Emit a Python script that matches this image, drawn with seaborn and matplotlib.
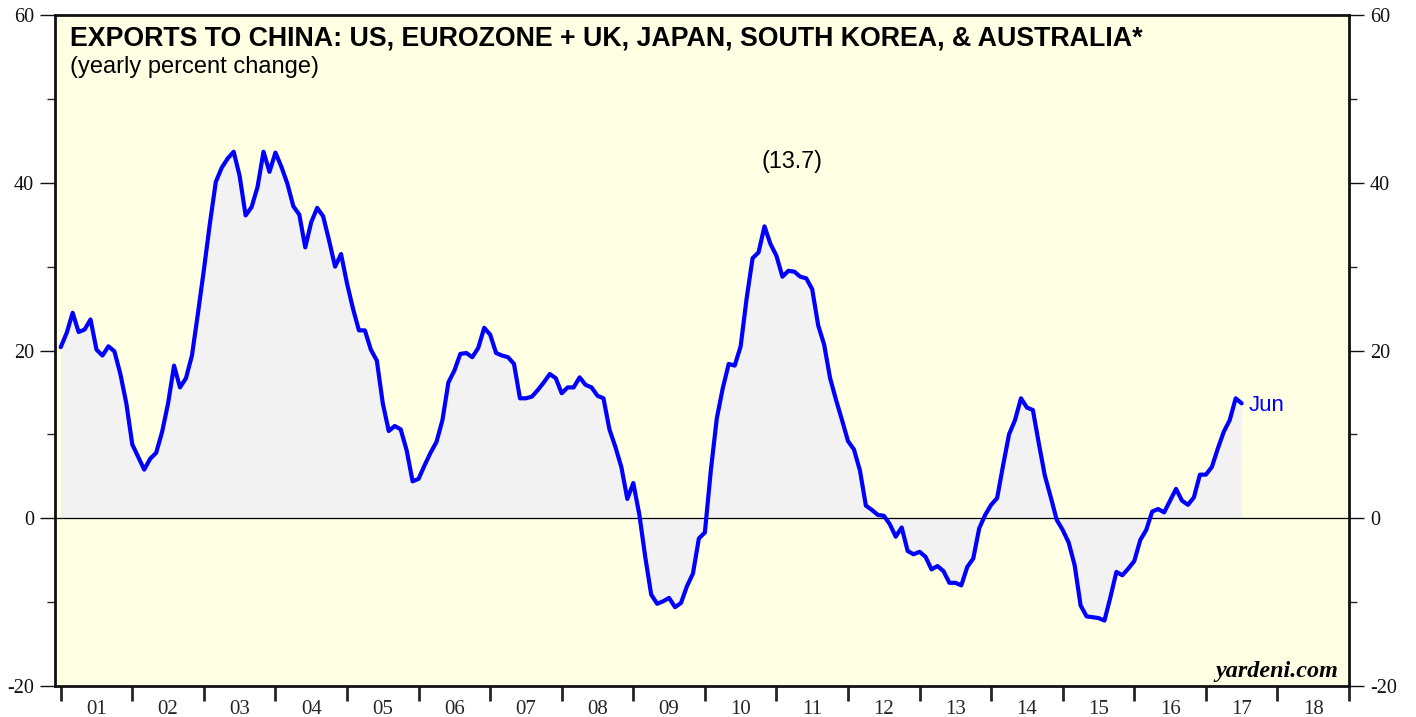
import numpy as np
import pandas as pd
import matplotlib
matplotlib.use("Agg")
import matplotlib.pyplot as plt
import seaborn as sns
from matplotlib.ticker import FixedLocator, MultipleLocator, NullFormatter, FixedFormatter

# Monthly yearly-percent-change in exports to China (Dec 2000 .. Jun 2017)
months = pd.date_range("2000-12-31", "2017-06-30", freq="ME")
pct_change = [
    20.4, 22.1, 24.5, 22.2, 22.5, 23.7, 20.1, 19.4, 20.5, 19.9, 17.2, 13.7,
    8.8, 7.3, 5.8, 7.1, 7.8, 10.3, 13.7, 18.2, 15.6, 16.7, 19.4, 24.4,
    29.6, 35.1, 40.1, 41.8, 42.9, 43.7, 40.8, 36.1, 37.1, 39.5, 43.7, 41.3,
    43.6, 41.9, 39.9, 37.2, 36.2, 32.3, 35.3, 37.0, 36.0, 33.1, 30.0, 31.5,
    28.0, 25.0, 22.4, 22.4, 20.1, 18.8, 13.7, 10.4, 11.0, 10.6, 8.1, 4.4,
    4.7, 6.3, 7.8, 9.1, 11.7, 16.2, 17.6, 19.6, 19.7, 19.2, 20.3, 22.7,
    21.9, 19.7, 19.4, 19.2, 18.4, 14.3, 14.3, 14.5, 15.3, 16.2, 17.2, 16.7,
    14.9, 15.6, 15.6, 16.8, 15.9, 15.6, 14.6, 14.3, 10.6, 8.5, 6.1, 2.3,
    4.2, 0.5, -4.6, -9.1, -10.2, -9.9, -9.5, -10.6, -10.1, -8.1, -6.6, -2.4,
    -1.7, 5.7, 11.9, 15.5, 18.4, 18.2, 20.5, 26.2, 31.0, 31.7, 34.8, 32.7,
    31.3, 28.8, 29.5, 29.4, 28.8, 28.6, 27.3, 23.0, 20.7, 16.7, 14.1, 11.7,
    9.2, 8.2, 5.7, 1.5, 1.0, 0.4, 0.3, -0.7, -2.2, -1.1, -3.9, -4.3,
    -4.0, -4.6, -6.1, -5.7, -6.3, -7.7, -7.7, -8.0, -5.8, -4.8, -1.2, 0.4,
    1.6, 2.4, 6.3, 10.0, 11.7, 14.3, 13.2, 12.9, 8.9, 5.1, 2.5, -0.2,
    -1.4, -2.9, -5.6, -10.4, -11.7, -11.8, -11.9, -12.2, -9.4, -6.4, -6.8, -6.0,
    -5.1, -2.6, -1.4, 0.8, 1.1, 0.7, 2.1, 3.5, 2.1, 1.6, 2.5, 5.2,
    5.2, 6.1, 8.3, 10.3, 11.7, 14.3, 13.7,
]
years = list(range(2001, 2019))
year_labels = [f"{y % 100:02d}" for y in years]
y_ticks = [-20, 0, 20, 40, 60]
latest_label = "Jun"
title = "EXPORTS TO CHINA: US, EUROZONE + UK, JAPAN, SOUTH KOREA, & AUSTRALIA*"
subtitle = "(yearly percent change)"

df = pd.DataFrame({"date": months, "pct": pct_change})
df["t"] = df["date"].dt.year + df["date"].dt.month / 12.0

sns.set_style("ticks")
plt.rcParams["font.family"] = ["Liberation Sans", "DejaVu Sans"]
plt.rcParams["axes.unicode_minus"] = False

W, H = 1416, 717
fig = plt.figure(figsize=(W / 100, H / 100), dpi=100)
left, right, top, bottom = 55, 1349, 15, 686
ax = fig.add_axes([left / W, 1 - bottom / H, (right - left) / W, (bottom - top) / H])
ax.set_facecolor("#FFFFE3")

ax.fill_between(df["t"], 0, df["pct"], color="#F2F2F2", lw=0, zorder=1)
ax.axhline(0, color="black", lw=0.9, zorder=2)
sns.lineplot(data=df, x="t", y="pct", ax=ax, color="#0000FF", lw=3.0, zorder=3)

ax.set_xlim(2000.92, 2019.0)
ax.set_ylim(-20, 60)
ax.set_xlabel("")
ax.set_ylabel("")

for s in ax.spines.values():
    s.set_visible(True)
    s.set_linewidth(2.0)
    s.set_color("#111111")

serif = ["Liberation Serif", "DejaVu Serif"]

# y axis: labels on both sides
ax.yaxis.set_major_locator(FixedLocator(y_ticks))
ax.yaxis.set_minor_locator(MultipleLocator(10))
ax.tick_params(axis="y", which="major", left=True, right=True, labelleft=True,
               labelright=True, direction="out", length=11, width=1.0, pad=4,
               labelsize=14.5, colors="#111111")
ax.tick_params(axis="y", which="minor", left=True, right=True, direction="out",
               length=6, width=1.0)

# x axis: year boundaries as ticks, labels centred inside each year
ax.xaxis.set_major_locator(FixedLocator(list(range(2001, 2020))))
ax.xaxis.set_major_formatter(NullFormatter())
ax.xaxis.set_minor_locator(FixedLocator([y + 0.5 for y in years]))
ax.xaxis.set_minor_formatter(FixedFormatter(year_labels))
ax.tick_params(axis="x", which="major", direction="out", length=11, width=2.0)
ax.tick_params(axis="x", which="minor", length=0, pad=10, labelsize=15)
for lab in ax.get_yticklabels() + ax.get_xticklabels(minor=True):
    lab.set_fontfamily(serif)

ax.text(0.0116, 0.955, title, transform=ax.transAxes, fontsize=19.3,
        fontweight="bold", ha="left", va="baseline", color="black")
ax.text(0.0116, 0.913, subtitle, transform=ax.transAxes, fontsize=17,
        ha="left", va="baseline", color="black")

last_t = df["t"].iloc[-1]
last_v = df["pct"].iloc[-1]
ax.text(2011.22, 41.8, f"({last_v:.1f})", fontsize=16.8, ha="center",
        va="baseline", color="black")
ax.text(last_t + 0.1, last_v - 0.2, latest_label, fontsize=16, ha="left",
        va="center", color="#0000FF")
ax.text(0.9915, 0.013, "yardeni.com", transform=ax.transAxes, fontsize=17.4,
        fontstyle="italic", fontweight="bold", family=serif, ha="right",
        va="baseline", color="black")

fig.savefig("out.png", dpi=100)
